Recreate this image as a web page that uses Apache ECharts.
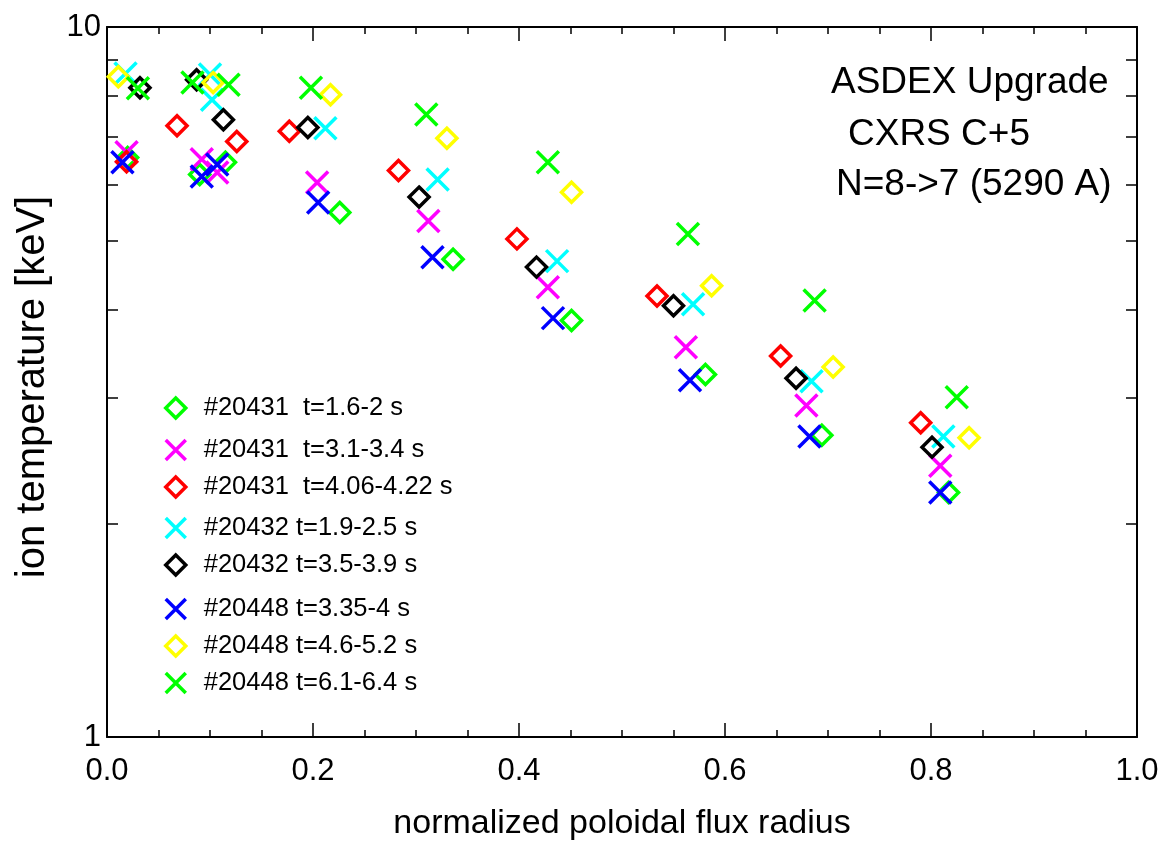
<!DOCTYPE html>
<html>
<head>
<meta charset="utf-8">
<script src="https://cdn.jsdelivr.net/npm/echarts@6/dist/echarts.min.js"></script>
<style>
html,body{margin:0;padding:0;background:#fff;}
#chart{width:1167px;height:846px;}
</style>
</head>
<body>
<div id="chart"></div>
<script>
// ---- data ----
const seriesNames = [
  '#20431  t=1.6-2 s',
  '#20431  t=3.1-3.4 s',
  '#20431  t=4.06-4.22 s',
  '#20432 t=1.9-2.5 s',
  '#20432 t=3.5-3.9 s',
  '#20448 t=3.35-4 s',
  '#20448 t=4.6-5.2 s',
  '#20448 t=6.1-6.4 s'
];
const seriesColors = ['#00ff00', '#ff00ff', '#ff0000', '#00ffff', '#000000', '#0000ff', '#ffff00', '#00ff00'];
const seriesMarkers = ['diamond', 'cross', 'diamond', 'cross', 'diamond', 'cross', 'diamond', 'cross'];

const s20431a = [[0.020,6.55],[0.090,6.20],[0.115,6.45],[0.226,5.48],[0.336,4.71],[0.451,3.86],[0.581,3.24],[0.694,2.66],[0.817,2.21]];
const s20431b = [[0.019,6.66],[0.092,6.51],[0.107,6.24],[0.204,6.04],[0.312,5.33],[0.428,4.30],[0.562,3.54],[0.679,2.93],[0.809,2.41]];
const s20431c = [[0.019,6.46],[0.068,7.26],[0.126,6.90],[0.177,7.13],[0.283,6.28],[0.398,5.03],[0.534,4.18],[0.654,3.44],[0.790,2.77]];
const s20432a = [[0.018,8.60],[0.100,8.57],[0.102,7.90],[0.212,7.20],[0.321,6.10],[0.437,4.68],[0.569,4.07],[0.684,3.17],[0.812,2.65]];
const s20432b = [[0.032,8.21],[0.087,8.43],[0.113,7.40],[0.195,7.22],[0.303,5.76],[0.417,4.59],[0.550,4.05],[0.669,3.20],[0.801,2.56]];
const s20448a = [[0.015,6.45],[0.092,6.16],[0.107,6.40],[0.205,5.66],[0.316,4.74],[0.433,3.89],[0.566,3.18],[0.682,2.65],[0.809,2.21]];
const s20448b = [[0.011,8.51],[0.103,8.35],[0.217,8.03],[0.330,6.97],[0.451,5.85],[0.587,4.32],[0.705,3.32],[0.837,2.64]];
const s20448c = [[0.030,8.20],[0.083,8.35],[0.118,8.29],[0.198,8.21],[0.310,7.53],[0.428,6.45],[0.564,5.11],[0.687,4.12],[0.825,3.01]];
const seriesData = [s20431a, s20431b, s20431c, s20432a, s20432b, s20448a, s20448b, s20448c];

const yLabelValues = [1, 10];
const yTickValues = [2, 3, 4, 5, 6, 7, 8, 9];
const annotations = ['ASDEX Upgrade', 'CXRS C+5', 'N=8->7 (5290 A)'];
const xTitle = 'normalized poloidal flux radius';
const yTitle = 'ion temperature [keV]';

// ---- styling ----
const FONT = '"Liberation Sans", Arial, Helvetica, sans-serif';
const SYM = {
  diamond: 'path://M5,0L10,5L5,10L0,5Z',
  cross: 'path://M0,0L10,10M0,10L10,0'
};
const SYM_SIZE = { diamond: 20, cross: 22 };
const legendCenters = [408, 450, 487, 528, 565, 609, 646, 683];
const annotPos = [[831, 83], [848, 135], [836, 185]];

const chart = echarts.init(document.getElementById('chart'), null, { renderer: 'canvas' });

const axisLineStyle = { color: '#000', width: 2 };
const tickLine = { color: '#000', width: 1.5 };

function xAxisDef(pos, showLabel) {
  return {
    type: 'value', position: pos, min: 0, max: 1, interval: 0.2,
    name: showLabel ? xTitle : '',
    nameLocation: 'middle', nameGap: 70,
    nameTextStyle: { fontFamily: FONT, fontSize: 34, color: '#000' },
    axisLine: { show: true, onZero: false, lineStyle: axisLineStyle },
    axisTick: { show: true, inside: true, length: 14, lineStyle: tickLine },
    minorTick: { show: true, splitNumber: 4, length: 7, lineStyle: tickLine },
    axisLabel: { show: showLabel, margin: 19, fontFamily: FONT, fontSize: 31, color: '#000',
      formatter: v => v.toFixed(1) },
    splitLine: { show: false }, minorSplitLine: { show: false }
  };
}
function yAxisDef(pos, showLabel) {
  return {
    type: 'log', logBase: 10, position: pos, min: 1, max: 10,
    name: showLabel ? yTitle : '',
    nameLocation: 'middle', nameGap: 54,
    nameTextStyle: { fontFamily: FONT, fontSize: 40, color: '#000', padding: [0, 10, 0, 0] },
    axisLine: { show: true, onZero: false, lineStyle: axisLineStyle },
    axisTick: { show: true, inside: true, length: 11, lineStyle: tickLine, customValues: yTickValues },
    axisLabel: { show: showLabel, margin: 6, fontFamily: FONT, fontSize: 31, color: '#000',
      customValues: yLabelValues, formatter: v => String(Math.round(v)) },
    splitLine: { show: false }
  };
}

const series = seriesNames.map((name, i) => ({
  name: name,
  type: 'scatter',
  xAxisIndex: 0, yAxisIndex: 0,
  symbol: SYM[seriesMarkers[i]],
  symbolSize: SYM_SIZE[seriesMarkers[i]],
  itemStyle: { color: 'transparent', borderColor: seriesColors[i], borderWidth: 3.5, opacity: 1 },
  emphasis: { disabled: true },
  data: seriesData[i],
  z: 2 + i
}));

const legends = seriesNames.map((name, i) => ({
  data: [{
    name: name,
    icon: SYM[seriesMarkers[i]],
    itemStyle: { color: 'transparent', borderColor: seriesColors[i], borderWidth: 3.5 }
  }],
  left: 164,
  top: legendCenters[i] - 13,
  padding: 0,
  itemWidth: 20, itemHeight: 20,
  selectedMode: false,
  textStyle: { fontFamily: FONT, fontSize: 25.5, color: '#000', padding: [0, 0, 0, 13] }
}));

const graphics = annotations.map((t, i) => ({
  type: 'text',
  left: annotPos[i][0],
  top: annotPos[i][1] - 19,
  style: { text: t, fontFamily: FONT, fontSize: 37, fill: '#000' },
  z: 100
}));

chart.setOption({
  animation: false,
  backgroundColor: '#fff',
  grid: { left: 107, right: 30, top: 27, bottom: 106, containLabel: false },
  xAxis: [xAxisDef('bottom', true), xAxisDef('top', false)],
  yAxis: [yAxisDef('left', true), yAxisDef('right', false)],
  legend: legends,
  graphic: graphics,
  series: series
});
</script>
</body>
</html>
